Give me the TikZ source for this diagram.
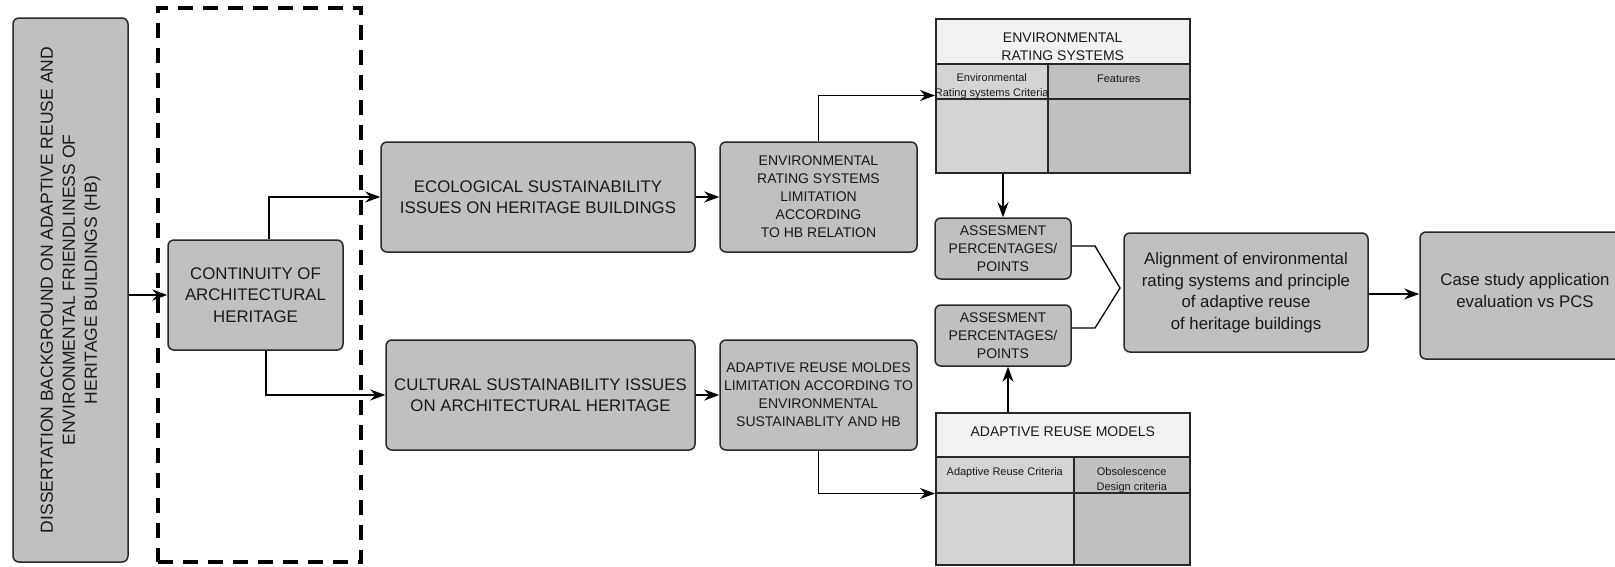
\documentclass[tikz,border=0pt]{standalone}
\usepackage{fontspec}
\usepackage{graphicx}
\setmainfont{Liberation Sans}
\usetikzlibrary{arrows.meta,calc}
\definecolor{boxgray}{RGB}{192,192,192}
\definecolor{lightcell}{RGB}{212,212,212}
\definecolor{headcell}{RGB}{242,242,242}
\definecolor{edge}{RGB}{40,40,40}
\definecolor{ink}{RGB}{25,25,25}
\newcommand\FontBig{\fontsize{16.8}{21.5}\selectfont}
\newcommand\FontMid{\fontsize{14}{18}\selectfont}
\newcommand\FontSmall{\fontsize{11}{15}\selectfont}
\newcommand\FontSide{\fontsize{17.5}{22}\selectfont}
\begin{document}
\begin{tikzpicture}[x=1pt,y=-1pt,
  box/.style={draw=edge, fill=boxgray, rounded corners=6pt, line width=1.5pt,
    inner sep=0pt, align=center, text=ink},
  cell/.style={draw=edge, line width=1.5pt, inner sep=0pt, anchor=north west},
  link/.style={draw=black, line width=1.3pt, -{Stealth[length=15pt,width=11pt]}},
  plain/.style={draw=black, line width=1.3pt},
  lab/.style={text=ink, align=center, inner sep=0pt},
]
\useasboundingbox (0,0) rectangle (1615,566);

% dashed frame around the continuity block
\node[draw=black, line width=4pt, dash pattern=on 15pt off 10pt,
      minimum width=203pt, minimum height=554pt, inner sep=0pt] (D) at (259.5,285) {};

% left column
\node[box, minimum width=115pt, minimum height=544pt] (L) at (70.5,290)
  {\rotatebox{90}{\FontSide\begin{tabular}{@{}c@{}}DISSERTATION BACKGROUND ON ADAPTIVE REUSE AND\\ENVIRONMENTAL FRIENDLINESS OF\\HERITAGE BUILDINGS (HB)\end{tabular}}};

\node[box, minimum width=175pt, minimum height=110pt, font=\FontBig] (C) at (255.5,295)
  {CONTINUITY OF\\ARCHITECTURAL\\HERITAGE};

% sustainability issues
\node[box, minimum width=314pt, minimum height=110pt, font=\FontBig] (E) at (538,197)
  {ECOLOGICAL SUSTAINABILITY\\ISSUES ON HERITAGE BUILDINGS};
\node[box, minimum width=309pt, minimum height=110pt, font=\FontBig] (U) at (540.5,395)
  {CULTURAL SUSTAINABILITY ISSUES\\ON ARCHITECTURAL HERITAGE};

% limitations
\node[box, minimum width=197pt, minimum height=110pt, font=\FontMid] (V) at (818.5,197)
  {ENVIRONMENTAL\\RATING SYSTEMS\\LIMITATION\\ACCORDING\\TO HB RELATION};
\node[box, minimum width=197pt, minimum height=110pt, font=\FontMid] (A) at (818.5,395)
  {ADAPTIVE REUSE MOLDES\\LIMITATION ACCORDING TO\\ENVIRONMENTAL\\SUSTAINABLITY AND HB};

% environmental rating systems table
\node[cell, fill=headcell, minimum width=254pt, minimum height=45pt] (T1h) at (935,18) {};
\node[cell, fill=lightcell, minimum width=112pt, minimum height=35pt] (T1a) at (935,63) {};
\node[cell, fill=boxgray, minimum width=142pt, minimum height=35pt] (T1b) at (1047,63) {};
\node[cell, fill=lightcell, minimum width=112pt, minimum height=74pt] (T1c) at (935,98) {};
\node[cell, fill=boxgray, minimum width=142pt, minimum height=74pt] (T1d) at (1047,98) {};
\node[lab, font=\FontMid] (T1t) at ($(T1h.center)+(0,5)$) {ENVIRONMENTAL\\RATING SYSTEMS};
\node[lab, font=\FontSmall] (T1at) at ($(T1a.center)+(0,5)$) {Environmental\\Rating systems Criteria};
\node[lab, font=\FontSmall] (T1bt) at ($(T1b.center)+(0,-2.5)$) {Features};

% adaptive reuse models table
\node[cell, fill=headcell, minimum width=254pt, minimum height=44pt] (T2h) at (935,412) {};
\node[cell, fill=lightcell, minimum width=138pt, minimum height=36pt] (T2a) at (935,456) {};
\node[cell, fill=boxgray, minimum width=116pt, minimum height=36pt] (T2b) at (1073,456) {};
\node[cell, fill=lightcell, minimum width=138pt, minimum height=72pt] (T2c) at (935,492) {};
\node[cell, fill=boxgray, minimum width=116pt, minimum height=72pt] (T2d) at (1073,492) {};
\node[lab, font=\FontMid] (T2t) at ($(T2h.center)+(0,-3)$) {ADAPTIVE REUSE MODELS};
\node[lab, font=\FontSmall] (T2at) at ($(T2a.center)+(0,-2)$) {Adaptive Reuse Criteria};
\node[lab, font=\FontSmall] (T2bt) at ($(T2b.center)+(0,5)$) {Obsolescence\\Design criteria};

% assessment boxes
\node[box, minimum width=136pt, minimum height=61pt, font=\FontMid] (S1) at (1003,248.5)
  {ASSESMENT\\PERCENTAGES/\\POINTS};
\node[box, minimum width=136pt, minimum height=61pt, font=\FontMid] (S2) at (1003,335.5)
  {ASSESMENT\\PERCENTAGES/\\POINTS};

% alignment and case study
\node[box, minimum width=244pt, minimum height=119pt, font=\FontBig] (G) at (1246,292.5)
  {Alignment of environmental\\rating systems and principle\\of adaptive reuse\\of heritage buildings};
\node[box, minimum width=210pt, minimum height=127pt] (K) at (1525,295.5) {};
\node[lab, font=\FontBig] (Kt) at ($(K.center)+(0,-5)$) {Case study application\\evaluation vs PCS};

% connectors
\draw[link] (C.west -| L.east) -- (C.west);
\draw[link] ([xshift=13.5pt]C.north) |- (E.west);
\draw[link] ([xshift=10.5pt]C.south) |- (U.west);
\draw[link] (E.east) -- (V.west);
\draw[link] (U.east) -- (A.west);
\draw[link] (V.north) |- ([yshift=4pt]T1a.south west);
\draw[link] (A.south) |- (T2a.south west);
\draw[link] (S1.north |- T1c.south) -- (S1.north);
\draw[link] ([xshift=5pt]S2.south |- T2h.north) -- ([xshift=5pt]S2.south);
\coordinate (tip) at (1120,288);
\draw[plain, line join=miter] ([yshift=2.5pt]S1.east) -- (1095,246) -- (tip) -- (1095,328) -- ([yshift=7.5pt]S2.east);
\draw[link] (G.east |- 0,294) -- (K.west |- 0,294);
\end{tikzpicture}
\end{document}
